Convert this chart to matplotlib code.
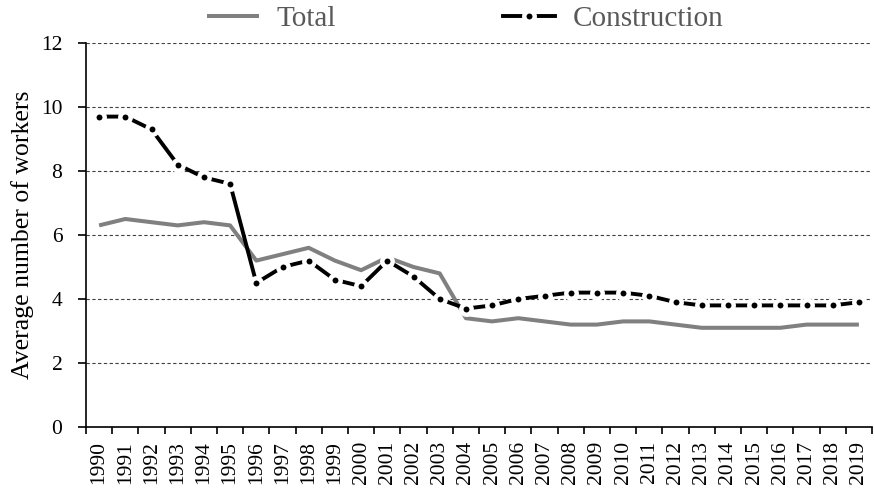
import numpy as np
import matplotlib
matplotlib.use("Agg")
import matplotlib.pyplot as plt

plt.rcParams["font.family"] = ["Liberation Serif", "DejaVu Serif"]

years = list(range(1990, 2020))
total = [6.3, 6.5, 6.4, 6.3, 6.4, 6.3, 5.2, 5.4, 5.6, 5.2,
         4.9, 5.3, 5.0, 4.8, 3.4, 3.3, 3.4, 3.3, 3.2, 3.2,
         3.3, 3.3, 3.2, 3.1, 3.1, 3.1, 3.1, 3.2, 3.2, 3.2]
construction = [9.7, 9.7, 9.3, 8.2, 7.8, 7.6, 4.5, 5.0, 5.2, 4.6,
                4.4, 5.2, 4.7, 4.0, 3.7, 3.8, 4.0, 4.1, 4.2, 4.2,
                4.2, 4.1, 3.9, 3.8, 3.8, 3.8, 3.8, 3.8, 3.8, 3.9]
yticks = [0, 2, 4, 6, 8, 10, 12]

fig = plt.figure(figsize=(8.74, 4.91), dpi=100)
ax = fig.add_axes([86 / 874, 64 / 491, 786 / 874, 384 / 491])

x = np.arange(len(years))
ax.plot(x, total, color="#808080", lw=2.9, solid_joinstyle="round",
        solid_capstyle="butt", label="Total", zorder=3)
# black line, white ring round each point gives the gap, black dot on top
ax.plot(x, construction, color="black", lw=2.8, solid_joinstyle="round",
        marker="o", ms=7.5, mfc="black", mec="white", mew=3.2,
        label="Construction", zorder=4)

ax.set_xlim(-0.5, len(years) - 0.5)
ax.set_ylim(0, 12)
ax.set_yticks(yticks)
ax.set_yticklabels([str(v) for v in yticks], fontsize=15.5)
ax.set_xticks(x)
ax.set_xticklabels([str(y) for y in years], rotation=90, fontsize=15.5)
ax.tick_params(axis="x", length=0, pad=10)
ax.set_xticks(np.arange(-0.5, len(years)), minor=True)
ax.tick_params(axis="x", which="minor", length=5, width=1.2, direction="out")
ax.tick_params(axis="y", length=6, width=1.2, direction="out", pad=11)

ax.grid(axis="y", color="#404040", lw=0.8, linestyle=(0, (3, 2.2)))
ax.set_axisbelow(True)
for s in ["top", "right"]:
    ax.spines[s].set_visible(False)
for s in ["left", "bottom"]:
    ax.spines[s].set_linewidth(1.2)

ax.set_ylabel("Average number of workers", fontsize=18.5, labelpad=5)

leg = fig.legend(loc="center", bbox_to_anchor=(465 / 874, 1 - 19 / 491), ncol=2,
                 frameon=False, fontsize=21, handlelength=1.8, handletextpad=0.6,
                 columnspacing=5.7, numpoints=1, labelcolor="#595959")

fig.savefig("out.png", dpi=100)
